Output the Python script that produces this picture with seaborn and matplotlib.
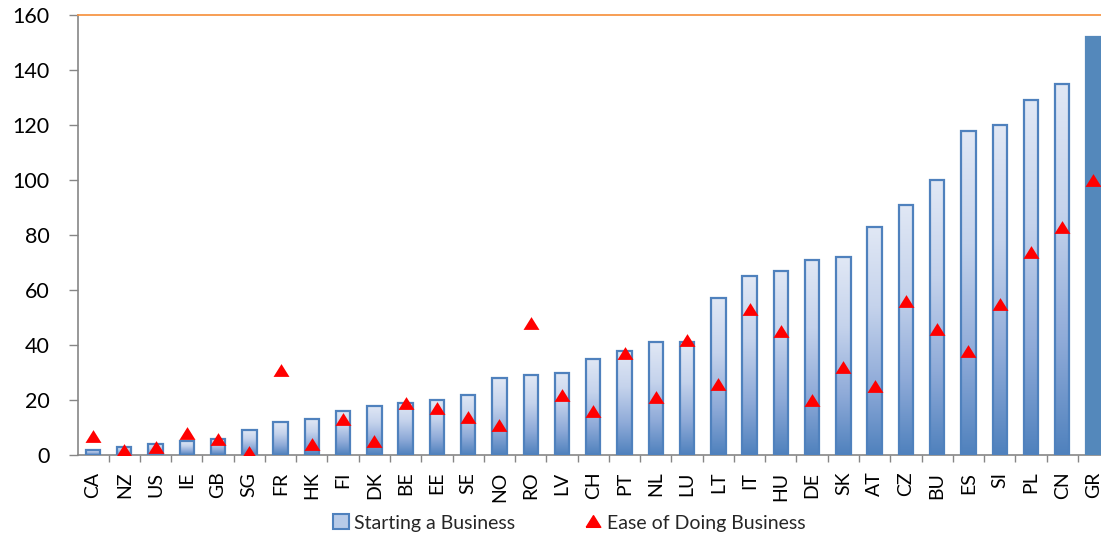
import numpy as np
import pandas as pd
import matplotlib
matplotlib.use("Agg")
import matplotlib.pyplot as plt
import seaborn as sns
from matplotlib.colors import LinearSegmentedColormap
from matplotlib.patches import Patch
from matplotlib.lines import Line2D
from matplotlib.ticker import FixedLocator

# Country codes, ordered by the "Starting a Business" rank
countries = ["CA", "NZ", "US", "IE", "GB", "SG", "FR", "HK", "FI", "DK", "BE",
             "EE", "SE", "NO", "RO", "LV", "CH", "PT", "NL", "LU", "LT", "IT",
             "HU", "DE", "SK", "AT", "CZ", "BU", "ES", "SI", "PL", "CN", "GR"]
starting_business = [2, 3, 4, 5, 6, 9, 12, 13, 16, 18, 19, 20, 22, 28, 29, 30,
                     35, 38, 41, 41, 57, 65, 67, 71, 72, 83, 91, 100, 118, 120,
                     129, 135, 152]
ease_of_doing_business = [7, 2, 3, 8, 6, 1, 31, 4, 13, 5, 19, 17, 14, 11, 48, 22,
                          16, 37, 21, 42, 26, 53, 45, 20, 32, 25, 56, 46, 38, 55,
                          74, 83, 100]
y_ticks = [0, 20, 40, 60, 80, 100, 120, 140, 160]
highlight = "GR"

series_labels = ["Starting a Business", "Ease of Doing Business"]

df = pd.DataFrame({"country": countries,
                   "start": starting_business,
                   "ease": ease_of_doing_business})

sns.set_theme(style="white")
plt.rcParams["font.family"] = ["Lato", "DejaVu Sans"]

EDGE = "#4F81BD"
SOLID = "#5488BB"
GRAY = "#868686"
ORANGE = "#F79646"
grad = LinearSegmentedColormap.from_list(
    "bar_grad",
    [(0.0, "#4F81BD"), (0.3, "#8EAAD8"), (0.65, "#C5D3EC"), (1.0, "#E1E8F5")])

# triangle marker, slightly wider than tall
tri = [(-1.0, -0.8), (1.0, -0.8), (0.0, 0.8), (-1.0, -0.8)]

fig = plt.figure(figsize=(11.01, 5.38), dpi=100)
ax = fig.add_axes([78 / 1101, 83 / 538, 1 - 78 / 1101, 440 / 538])

sns.barplot(data=df, x="country", y="start", width=0.46, color=SOLID,
            edgecolor=EDGE, linewidth=1.6, ax=ax, zorder=3)

bars = list(ax.patches)
for name, bar in zip(countries, bars):
    if name == highlight:
        bar.set_facecolor(SOLID)
        bar.set_edgecolor(SOLID)
        continue
    bar.set_facecolor("none")
    x0 = bar.get_x()
    w = bar.get_width()
    h = bar.get_height()
    im = ax.imshow(np.linspace(0, 1, 256).reshape(-1, 1), origin="lower",
                   extent=[x0, x0 + w, 0, h], cmap=grad, aspect="auto",
                   zorder=2, interpolation="bilinear")
    im.set_clip_path(bar)

sns.stripplot(data=df, x="country", y="ease", jitter=False, marker=tri,
              size=11.5, color="#FF0000", linewidth=0, ax=ax, zorder=5)

ax.set_xlim(-0.48, len(countries) - 1 + 0.24)
ax.set_ylim(0, 160)
ax.set_yticks(y_ticks)
ax.set_xlabel("")
ax.set_ylabel("")

ax.spines["right"].set_visible(False)
ax.spines["top"].set_color(ORANGE)
ax.spines["top"].set_linewidth(1.3)
for s in ("left", "bottom"):
    ax.spines[s].set_color(GRAY)
    ax.spines[s].set_linewidth(1.2)

ax.xaxis.set_minor_locator(FixedLocator(np.arange(-0.5, len(countries) - 0.5, 1.0)))
ax.tick_params(axis="x", which="major", length=0, pad=12, labelsize=14,
               labelrotation=90, labelcolor="black", bottom=True)
ax.tick_params(axis="x", which="minor", length=5, width=1, color=GRAY,
               direction="out", bottom=True)
ax.tick_params(axis="y", which="major", length=6.5, width=1, color=GRAY,
               direction="out", left=True, pad=14, labelsize=15.5,
               labelcolor="black")
ax.grid(False)

handles = [Patch(facecolor="#B8CBE8", edgecolor=EDGE, linewidth=1.5),
           Line2D([], [], marker=tri, color="#FF0000", linestyle="none",
                  markersize=10.5)]
fig.legend(handles, series_labels, loc="center", bbox_to_anchor=(0.517, 0.028),
           ncol=2, frameon=False, fontsize=14, columnspacing=3.6,
           handlelength=0.8, handleheight=0.8, handletextpad=0.3)

fig.savefig("out.png", dpi=100)
